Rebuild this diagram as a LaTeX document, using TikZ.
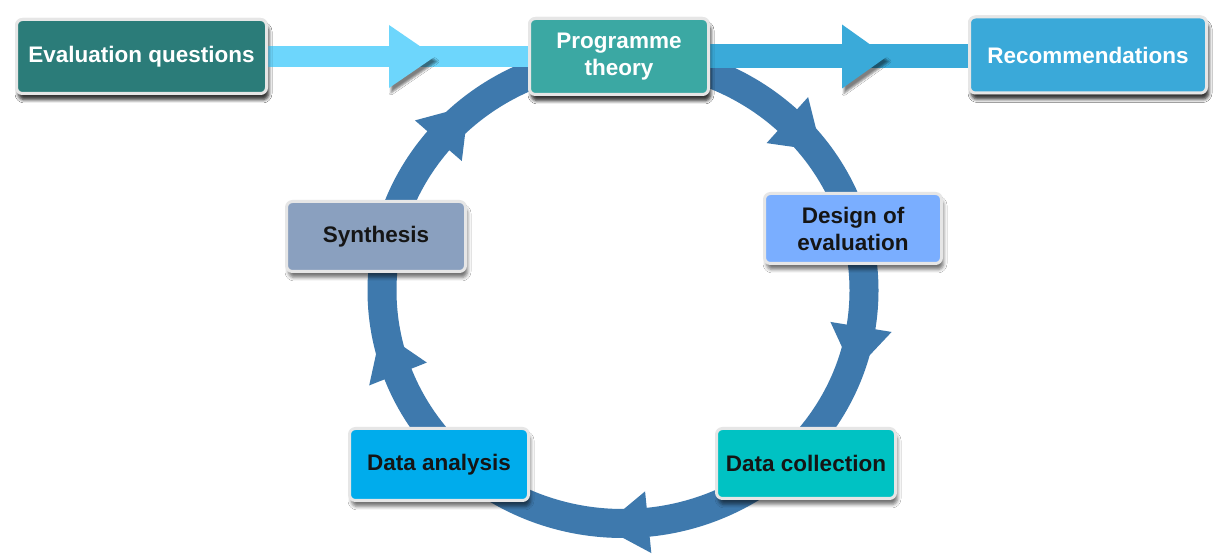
\documentclass[tikz,border=0pt]{standalone}
\usepackage{fontspec}
\setmainfont{Liberation Sans}
\usetikzlibrary{shadows.blur,calc}
\definecolor{eqcol}{HTML}{2B7C79}
\definecolor{ptcol}{HTML}{3BA8A3}
\definecolor{reccol}{HTML}{3AA9D9}
\definecolor{syncol}{HTML}{8AA0BF}
\definecolor{descol}{HTML}{7AAEFF}
\definecolor{dacol}{HTML}{00ACEC}
\definecolor{dccol}{HTML}{00C2C3}
\definecolor{lacol}{HTML}{6DD6FC}
\definecolor{racol}{HTML}{3AAAD9}
\definecolor{ringcol}{HTML}{3E79AD}
\definecolor{boxborder}{HTML}{E6E6E6}
\definecolor{darktext}{HTML}{151515}
\begin{document}
\begin{tikzpicture}[x=1pt,y=1pt,
  box/.style={draw=boxborder, line width=3pt, rounded corners=6pt, align=center,
    font=\fontsize{22.5}{27}\selectfont\bfseries, inner sep=0pt,
    blur shadow={shadow xshift=2pt, shadow yshift=-6pt, shadow blur radius=3.5pt, shadow opacity=55}},
  band/.style={line width=#1, preaction={draw=black, opacity=0.2, transform canvas={xshift=1pt,yshift=-4pt}}},
  headshape/.style={blur shadow={shadow xshift=2pt, shadow yshift=-5pt, shadow blur radius=2pt, shadow opacity=50}}
]
\useasboundingbox (0,0) rectangle (1213,554);
\fill[white] (0,0) rectangle (1213,554);

% cycle ring
\draw[ringcol, line width=29pt] (623,263.5) ellipse [x radius=241, y radius=233];
\foreach \t in {47,-9,-84,201,140}{
  \pgfmathsetmacro\px{623+241*cos(\t)}
  \pgfmathsetmacro\py{263.5+233*sin(\t)}
  \pgfmathsetmacro\ph{atan2(-233*cos(\t),241*sin(\t))}
  \fill[ringcol, shift={(\px,\py)}, rotate=\ph] (0,31) -- (46,0) -- (0,-31) -- cycle;
}

% boxes
\node[box, fill=eqcol, text=white, minimum width=250pt, minimum height=74pt] (eq) at (141.5,497.5) {Evaluation questions};
\node[box, fill=ptcol, text=white, minimum width=179pt, minimum height=76pt] (pt) at (619,497.5) {Programme\\theory};
\node[box, fill=reccol, text=white, minimum width=237pt, minimum height=76pt] (rec) at (1088,499) {Recommendations};
\node[box, fill=syncol, text=darktext, minimum width=179pt, minimum height=70pt] (syn) at (376,317.5) {Synthesis};
\node[box, fill=descol, text=darktext, minimum width=177pt, minimum height=70pt] (des) at (853,325.5) {Design of\\evaluation};
\node[box, fill=dacol, text=darktext, minimum width=179pt, minimum height=72pt] (da) at (439,89.5) {Data analysis};
\node[box, fill=dccol, text=darktext, minimum width=179pt, minimum height=70pt] (dc) at (806,90.5) {Data collection};

% horizontal arrows
\draw[lacol, band=21pt] (eq.east) -- (pt.west);
\fill[lacol, headshape] (389,529) -- (435,497.5) -- (389,466) -- cycle;
\draw[racol, band=24pt] (pt.east) -- (pt.east -| rec.west);
\fill[racol, headshape] (842,529.5) -- (887,497.5) -- (842,465.5) -- cycle;

% redraw boxes on top of the arrow bands
\node[box, fill=eqcol, text=white, minimum width=250pt, minimum height=74pt] at (eq) {Evaluation questions};
\node[box, fill=ptcol, text=white, minimum width=179pt, minimum height=76pt] at (pt) {Programme\\theory};
\node[box, fill=reccol, text=white, minimum width=237pt, minimum height=76pt] at (rec) {Recommendations};
\end{tikzpicture}
\end{document}
